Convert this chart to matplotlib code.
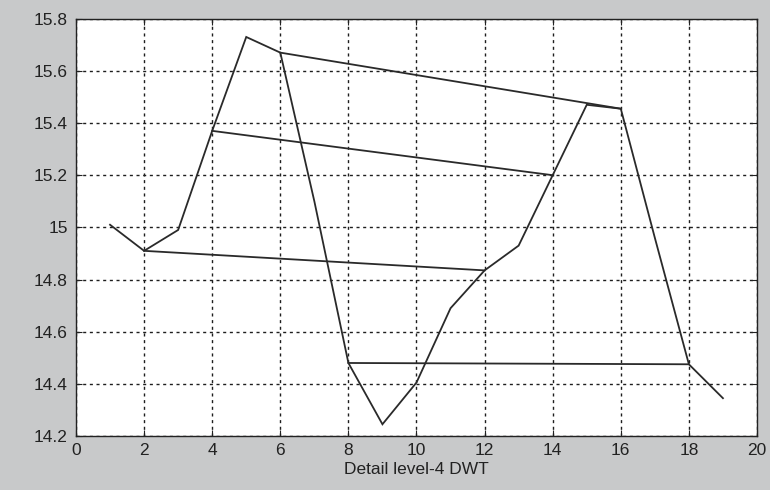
import matplotlib
matplotlib.use("Agg")
import matplotlib.pyplot as plt

# Sample index and detail-coefficient values
x = [1, 2, 3, 4, 5, 6, 7, 8, 9, 10, 11, 12, 13, 14, 15, 16, 17, 18, 19]
y = [15.01, 14.91, 14.99, 15.37, 15.73, 15.67, 15.10, 14.48, 14.245, 14.405,
     14.69, 14.835, 14.93, 15.20, 15.47, 15.455, 14.96, 14.475, 14.345]

# Sample pairs joined by straight links (1-based sample indices)
links = [(2, 12), (4, 14), (6, 16), (8, 18)]

xticks = [0, 2, 4, 6, 8, 10, 12, 14, 16, 18, 20]
yticks = [14.2, 14.4, 14.6, 14.8, 15.0, 15.2, 15.4, 15.6, 15.8]
ytick_labels = ["14.2", "14.4", "14.6", "14.8", "15", "15.2", "15.4", "15.6", "15.8"]

plt.rcParams["font.family"] = ["Liberation Sans", "DejaVu Sans"]

fig = plt.figure(figsize=(7.7, 4.9), dpi=100, facecolor="#c8c9ca")
ax = fig.add_axes([0.0987, 0.1102, 0.8844, 0.8516])
ax.set_facecolor("white")

line_kw = dict(color="#2a2a2a", linewidth=1.3, solid_joinstyle="miter")
ax.plot(x, y, **line_kw)
for a, b in links:
    ax.plot([x[a - 1], x[b - 1]], [y[a - 1], y[b - 1]], **line_kw)

ax.set_xlim(0, 20)
ax.set_ylim(14.2, 15.8)
ax.set_xticks(xticks)
ax.set_yticks(yticks)
ax.set_yticklabels(ytick_labels)
ax.grid(True, color="#1e1e1e", linestyle=(0, (2.2, 2.6)), linewidth=1.0)
ax.tick_params(direction="in", top=True, right=True, length=4,
               labelsize=12.5, colors="#222222")
ax.tick_params(axis="x", pad=5)
ax.tick_params(axis="y", pad=6)
for s in ax.spines.values():
    s.set_color("#222222")
    s.set_linewidth(1.0)
ax.set_xlabel("Detail level-4 DWT", fontsize=12.5, color="#222222", labelpad=3)

fig.savefig("out.png", dpi=100, facecolor=fig.get_facecolor())
